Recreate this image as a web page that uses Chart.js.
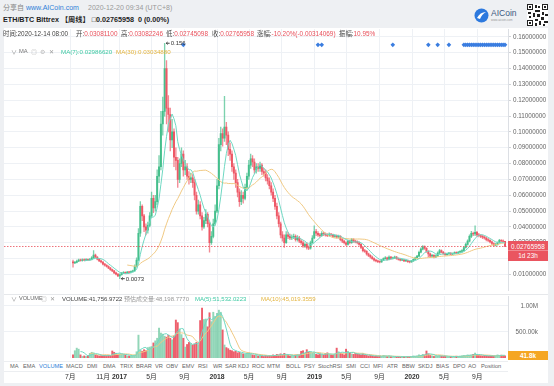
<!DOCTYPE html>
<html><head><meta charset="utf-8">
<script src="https://cdn.jsdelivr.net/npm/chart.js@4.4.1/dist/chart.umd.min.js"></script>
<style>
html,body{margin:0;padding:0;}
body{background:#eef0f3;width:554px;height:386px;overflow:hidden;position:relative;font-family:"Liberation Sans","Noto Sans CJK SC",sans-serif;}
#panel{position:absolute;left:4px;top:28px;width:544px;height:355px;background:#fff;}
canvas{position:absolute;left:0;top:0;}
.t{position:absolute;white-space:nowrap;line-height:1;}
.r{color:#e8505b;}
.lbl{color:#444;}
#tabs{position:absolute;left:4px;top:361px;width:504px;height:11px;border-top:1px solid #eceef1;border-bottom:1px solid #eceef1;background:#fff;box-sizing:border-box;font-size:5.7px;color:#666;}
#tabs span{position:absolute;top:2.2px;white-space:nowrap;line-height:1;}
#tabs span.on{color:#2f7fd8;}
#ptag{position:absolute;left:508px;width:40px;height:20px;background:#ea5560;color:#fff;font-size:6.4px;text-align:center;}
#vtag{position:absolute;left:508px;width:40px;height:9px;background:#f5a623;color:#fff;font-size:6.4px;font-weight:bold;text-align:center;line-height:9px;}
</style></head><body>
<div id="panel"></div>
<div class="t" style="left:3px;top:4px;font-size:7px;color:#888;">分享自 <span style="color:#2f7fd8">www.AICoin.com</span></div>
<div class="t" style="left:88px;top:4px;font-size:7px;color:#999;">2020-12-20 09:34 (UTC+8)</div>
<div class="t" style="left:3px;top:16px;font-size:7.2px;font-weight:bold;color:#222;">ETH/BTC Bittrex 【周线】 □0.02765958&nbsp; 0 (0.00%)</div>
<svg style="position:absolute;left:474px;top:8px" width="15" height="15" viewBox="0 0 15 15"><circle cx="7.5" cy="7.5" r="7" fill="#2d79de"/><path d="M3 10 Q6 4 12 4 Q8 6 6 11 Z" fill="#fff"/></svg>
<div class="t" style="left:491px;top:9px;font-size:8.5px;color:#3b587f;">AICoin</div>
<div class="t" style="left:491px;top:18.5px;font-size:3px;color:#999;">www.aicoin.com</div>
<svg style="position:absolute;left:527px;top:4px" width="21" height="22" viewBox="0 0 21 22">
<rect width="21" height="22" fill="#fff"/>
<g fill="#222">
<rect x="0" y="0" width="6" height="6"/><rect x="15" y="0" width="6" height="6"/><rect x="0" y="16" width="6" height="6"/>
<rect x="8" y="1" width="2" height="3"/><rect x="11" y="2" width="2" height="2"/><rect x="8" y="6" width="5" height="2"/>
<rect x="1" y="8" width="3" height="2"/><rect x="6" y="9" width="2" height="4"/><rect x="10" y="10" width="3" height="3"/>
<rect x="15" y="8" width="2" height="3"/><rect x="18" y="10" width="3" height="2"/><rect x="14" y="13" width="3" height="3"/>
<rect x="8" y="15" width="3" height="2"/><rect x="12" y="17" width="2" height="4"/><rect x="17" y="17" width="4" height="2"/>
<rect x="2" y="12" width="2" height="2"/><rect x="16" y="20" width="2" height="2"/><rect x="8" y="19" width="2" height="3"/>
</g>
<g fill="#fff"><rect x="1" y="1" width="4" height="4"/><rect x="16" y="1" width="4" height="4"/><rect x="1" y="17" width="4" height="4"/></g>
<g fill="#222"><rect x="2" y="2" width="2" height="2"/><rect x="17" y="2" width="2" height="2"/><rect x="2" y="18" width="2" height="2"/></g>
</svg>

<canvas id="pc" width="548" height="296"></canvas>
<canvas id="vc" width="548" height="386"></canvas>

<div style="position:absolute;left:4px;top:294px;width:544px;height:1px;background:#e6e8eb;"></div>

<div class="t" style="left:3px;top:31px;font-size:6.4px;"><span class="lbl">时间:2020-12-14 08:00</span></div>
<div class="t" style="left:76px;top:31px;font-size:6.4px;"><span class="lbl">开:</span><span class="r">0.03081100</span></div>
<div class="t" style="left:121px;top:31px;font-size:6.4px;"><span class="lbl">高:</span><span class="r">0.03082246</span></div>
<div class="t" style="left:166px;top:31px;font-size:6.4px;"><span class="lbl">低:</span><span class="r">0.02745098</span></div>
<div class="t" style="left:212px;top:31px;font-size:6.4px;"><span class="lbl">收:</span><span class="r">0.02765958</span></div>
<div class="t" style="left:257px;top:31px;font-size:6.4px;"><span class="lbl">涨幅:</span><span class="r">-10.20%(-0.00314069)</span></div>
<div class="t" style="left:339px;top:31px;font-size:6.4px;"><span class="lbl">振幅:</span><span class="r">10.95%</span></div>

<div class="t" style="left:11px;top:49px;font-size:6px;color:#999;">∨</div>
<div class="t" style="left:19px;top:49px;font-size:5.8px;color:#777;">MA</div>
<div class="t" style="left:31px;top:49px;font-size:6px;color:#bbb;">◎</div>
<div class="t" style="left:40px;top:49px;font-size:6px;color:#bbb;">⚙</div>
<div class="t" style="left:49px;top:49px;font-size:6px;color:#999;">✕</div>
<div class="t" style="left:61px;top:49px;font-size:6.2px;color:#3fc9a4;">MA(7):0.02986620</div>
<div class="t" style="left:116px;top:49px;font-size:6.2px;color:#e3b43f;">MA(30):0.03034880</div>

<div class="t" style="left:11px;top:296px;font-size:6px;color:#999;">∨</div>
<div class="t" style="left:19px;top:296px;font-size:5.6px;color:#666;">VOLUME</div>
<div class="t" style="left:41px;top:296px;font-size:6px;color:#bbb;">◎</div>
<div class="t" style="left:50px;top:296px;font-size:6px;color:#999;">✕</div>
<div class="t" style="left:62px;top:296px;font-size:6px;color:#444;">VOLUME:41,756.9722</div>
<div class="t" style="left:124px;top:296px;font-size:6px;color:#999;">预估成交量:48,198.7770</div>
<div class="t" style="left:195px;top:296px;font-size:6px;color:#3fc9a4;">MA(5):51,532.0223</div>
<div class="t" style="left:261px;top:296px;font-size:6px;color:#e3b43f;">MA(10):45,019.3559</div>

<div id="tabs">
<span style="left:6px">MA</span><span style="left:19px">EMA</span><span class="on" style="left:35px">VOLUME</span><span style="left:62px">MACD</span><span style="left:83px">DMI</span><span style="left:99px">DMA</span><span style="left:116px">TRIX</span><span style="left:132px">BRAR</span><span style="left:151px">VR</span><span style="left:162px">OBV</span><span style="left:178px">EMV</span><span style="left:194px">RSI</span><span style="left:209px">WR</span><span style="left:221px">SAR</span><span style="left:234px">KDJ</span><span style="left:248px">ROC</span><span style="left:263px">MTM</span><span style="left:282px">BOLL</span><span style="left:300px">PSY</span><span style="left:314px">StochRSI</span><span style="left:342px">SMI</span><span style="left:356px">CCI</span><span style="left:369px">MFI</span><span style="left:383px">ATR</span><span style="left:398px">BBW</span><span style="left:414px">SKDJ</span><span style="left:432px">BIAS</span><span style="left:449px">DPO</span><span style="left:464px">AO</span><span style="left:477px">Position</span>
</div>

<div id="ptag"><div style="height:10px;line-height:11px;border-bottom:1px solid #f08a92;box-sizing:border-box;">0.02765958</div><div style="height:10px;line-height:9px;">1d 23h</div></div>
<div id="vtag">41.8k</div>

<script>
// ---------------- DATA ----------------
const weekStart = '2016-07-11';
const firstOpen = 0.0180;
const close = [
0.0172,0.0176,0.0183,0.0190,0.0188,0.0192,0.0190,0.0193,0.0191,0.0195,
0.0205,0.0222,0.0210,0.0196,0.0185,0.0178,0.0165,0.0158,0.0150,0.0140,
0.0130,0.0122,0.0110,0.0102,0.0090,0.0098,0.0108,0.0112,0.0110,0.0115,
0.0113,0.0118,0.0122,0.0150,0.0190,0.0360,0.0530,0.0470,0.0400,0.0380,
0.0410,0.0470,0.0580,0.0520,0.0560,0.0720,0.0780,0.1050,0.1130,0.1400,
0.1150,0.1110,0.0950,0.1000,0.0840,0.0820,0.0700,0.0800,0.0860,0.0760,
0.0780,0.0720,0.0700,0.0710,0.0680,0.0600,0.0500,0.0540,0.0470,0.0400,
0.0440,0.0480,0.0420,0.0300,0.0340,0.0420,0.0500,0.0660,0.0920,0.0990,
0.0960,0.1030,0.0980,0.0890,0.0860,0.0780,0.0740,0.0680,0.0620,0.0560,
0.0600,0.0580,0.0650,0.0720,0.0790,0.0830,0.0810,0.0760,0.0780,0.0770,
0.0790,0.0750,0.0740,0.0710,0.0690,0.0660,0.0620,0.0580,0.0530,0.0470,
0.0420,0.0350,0.0330,0.0300,0.0350,0.0340,0.0330,0.0335,0.0340,0.0320,
0.0330,0.0310,0.0300,0.0280,0.0290,0.0270,0.0265,0.0300,0.0330,0.0370,
0.0360,0.0350,0.0345,0.0360,0.0355,0.0350,0.0345,0.0355,0.0350,0.0340,
0.0345,0.0335,0.0340,0.0320,0.0310,0.0300,0.0290,0.0310,0.0300,0.0320,
0.0310,0.0305,0.0300,0.0290,0.0270,0.0250,0.0245,0.0230,0.0220,0.0210,
0.0200,0.0190,0.0185,0.0180,0.0178,0.0190,0.0200,0.0205,0.0195,0.0210,
0.0200,0.0205,0.0210,0.0200,0.0195,0.0190,0.0192,0.0185,0.0188,0.0180,
0.0178,0.0185,0.0195,0.0205,0.0215,0.0240,0.0260,0.0275,0.0265,0.0245,
0.0230,0.0215,0.0220,0.0210,0.0218,0.0235,0.0250,0.0240,0.0232,0.0225,
0.0230,0.0235,0.0228,0.0232,0.0238,0.0235,0.0240,0.0245,0.0250,0.0270,
0.0290,0.0310,0.0340,0.0360,0.0355,0.0365,0.0350,0.0345,0.0340,0.0335,
0.0330,0.0320,0.0315,0.0305,0.0295,0.0285,0.0290,0.0300,0.0315,0.0312,
0.03081100,0.02765958];
const high = [
.0190,.0182,.0190,.0196,.0197,.0199,.0198,.0200,.0198,.0201,
.0212,.0250,.0228,.0213,.0199,.0190,.0181,.0170,.0162,.0154,
.0144,.0134,.0125,.0114,.0105,.0104,.0113,.0118,.0116,.0120,
.0119,.0123,.0128,.0160,.0205,.0390,.0560,.0540,.0480,.0420,
.0430,.0490,.0620,.0600,.0600,.0760,.0850,.1130,.1220,.1560,
.1450,.1230,.1150,.1080,.1020,.0900,.0840,.0830,.0900,.0880,
.0820,.0800,.0750,.0740,.0730,.0700,.0620,.0570,.0560,.0490,
.0460,.0510,.0490,.0430,.0370,.0450,.0540,.0700,.0960,.1030,
.1020,.1225,.1060,.1000,.0930,.0880,.0800,.0760,.0700,.0640,
.0630,.0620,.0670,.0740,.0820,.0860,.0850,.0830,.0800,.0800,
.0810,.0800,.0770,.0760,.0730,.0710,.0680,.0640,.0600,.0550,
.0490,.0430,.0370,.0350,.0370,.0365,.0355,.0350,.0355,.0350,
.0345,.0340,.0320,.0310,.0300,.0300,.0280,.0310,.0345,.0406,
.0385,.0370,.0360,.0370,.0368,.0362,.0358,.0362,.0360,.0355,
.0352,.0350,.0348,.0345,.0328,.0316,.0305,.0318,.0316,.0328,
.0326,.0316,.0312,.0305,.0295,.0275,.0258,.0250,.0235,.0225,
.0215,.0204,.0195,.0190,.0186,.0195,.0205,.0212,.0210,.0218,
.0214,.0210,.0216,.0214,.0204,.0200,.0197,.0195,.0192,.0190,
.0184,.0189,.0199,.0210,.0220,.0248,.0268,.0282,.0280,.0270,
.0250,.0235,.0226,.0225,.0224,.0242,.0258,.0255,.0245,.0236,
.0234,.0240,.0238,.0236,.0243,.0242,.0245,.0250,.0256,.0276,
.0298,.0318,.0350,.0372,.0368,.0406,.0372,.0360,.0352,.0348,
.0342,.0336,.0328,.0320,.0310,.0300,.0296,.0306,.0322,.0320,
.0318,.03082246];
const low = [
.0145,.0168,.0172,.0180,.0183,.0184,.0186,.0187,.0186,.0188,
.0192,.0200,.0205,.0192,.0180,.0172,.0160,.0152,.0145,.0136,
.0125,.0117,.0105,.0097,.0086,.0073,.0095,.0104,.0106,.0107,
.0109,.0110,.0115,.0120,.0145,.0185,.0340,.0440,.0370,.0350,
.0360,.0400,.0460,.0490,.0500,.0540,.0680,.0760,.0980,.1100,
.1050,.1000,.0880,.0900,.0780,.0760,.0650,.0680,.0780,.0720,
.0730,.0700,.0670,.0680,.0650,.0570,.0480,.0480,.0450,.0380,
.0390,.0420,.0400,.0240,.0290,.0330,.0410,.0490,.0640,.0880,
.0910,.0940,.0920,.0850,.0820,.0750,.0700,.0650,.0590,.0530,
.0540,.0550,.0570,.0630,.0700,.0770,.0780,.0740,.0740,.0750,
.0750,.0730,.0720,.0690,.0670,.0640,.0600,.0560,.0510,.0450,
.0400,.0330,.0310,.0270,.0295,.0325,.0320,.0320,.0325,.0310,
.0310,.0300,.0290,.0270,.0270,.0260,.0256,.0260,.0295,.0325,
.0345,.0340,.0335,.0340,.0345,.0342,.0338,.0340,.0342,.0332,
.0333,.0328,.0328,.0312,.0300,.0292,.0282,.0285,.0293,.0296,
.0302,.0298,.0292,.0283,.0262,.0242,.0238,.0222,.0212,.0203,
.0194,.0184,.0178,.0174,.0172,.0175,.0186,.0196,.0190,.0192,
.0195,.0196,.0200,.0195,.0190,.0185,.0186,.0180,.0181,.0176,
.0173,.0175,.0182,.0192,.0202,.0212,.0236,.0255,.0258,.0238,
.0210,.0205,.0208,.0204,.0206,.0214,.0230,.0235,.0226,.0220,
.0220,.0226,.0224,.0224,.0228,.0230,.0231,.0236,.0240,.0246,
.0265,.0285,.0305,.0332,.0345,.0345,.0340,.0336,.0332,.0326,
.0322,.0312,.0306,.0298,.0288,.0278,.0280,.0284,.0295,.0305,
.0302,.02745098];
const volumeK = [
60,140,190,170,60,30,40,30,50,90,
110,100,60,50,40,45,40,50,45,55,
50,135,110,90,60,80,75,70,60,40,
40,35,45,60,120,440,150,130,160,140,
200,210,220,290,330,380,575,480,460,420,
400,440,380,350,420,730,680,560,450,380,
210,260,300,280,250,270,300,260,720,960,
740,750,600,870,700,880,800,860,920,880,
540,250,200,180,150,140,120,130,100,110,
90,80,70,90,100,80,60,50,60,40,
50,40,30,50,40,50,40,60,50,70,
60,80,60,90,60,50,40,50,40,60,
70,60,130,140,90,160,110,120,90,100,
70,60,80,70,60,90,100,70,60,50,
80,190,120,90,80,60,170,130,90,80,
70,90,80,70,60,80,60,50,40,50,
40,30,40,30,40,30,50,40,30,40,
30,20,30,20,30,20,30,25,20,30,
25,30,40,35,40,60,50,70,60,135,
80,50,40,30,35,40,50,40,30,35,
30,25,30,25,30,35,30,35,40,50,
45,60,55,60,70,95,60,50,45,40,
50,45,35,40,35,40,45,60,50,55,
50,41.7569722];
const markerWeeks = [59,131,133,171,190,195,201,209,210,211,212,213,214,215,216,217,218,219,220,221,222,223,224,225,226,227,228,229,230,231];
const markerLevel = 0.155;
const tickDates  = ['2016-07-01','2016-11-01','2017-01-01','2017-05-01','2017-09-01','2018-01-01','2018-05-01','2018-09-01','2019-01-01','2019-05-01','2019-09-01','2020-01-01','2020-05-01','2020-09-01'];
const tickLabels = ['7月','11月','2017','5月','9月','2018','5月','9月','2019','5月','9月','2020','5月','9月'];
const priceTicks = [0.01,0.02,0.03,0.04,0.05,0.06,0.07,0.08,0.09,0.10,0.11,0.12,0.13,0.14,0.15,0.16];
const volumeTicksK = [500,1000];

// ---------------- BUILD ----------------
Chart.defaults.font.family = '"Liberation Sans","Noto Sans CJK SC",sans-serif';
Chart.defaults.animation = false;
const N = close.length;
const open = close.map((c,i)=> i===0 ? firstOpen : close[i-1]);
const isUp = close.map((c,i)=> c >= open[i]);
const UP='#45bf8c', DOWN='#ee5866';
const UPV='rgba(110,200,160,0.75)', DOWNV='rgba(236,86,100,0.95)';
function ma(arr,n){const out=[];for(let i=n-1;i<arr.length;i++){let s=0;for(let k=i-n+1;k<=i;k++)s+=arr[k];out.push({x:i,y:s/n});}return out;}
const DAY=864e5;
const tickPos = tickDates.map(d => (Date.parse(d)-Date.parse(weekStart))/(7*DAY));
const XMIN=-36.9, XMAX=232.6;

function xScale(show){
  return {type:'linear',min:XMIN,max:XMAX,offset:false,
    afterBuildTicks:s=>{s.ticks=tickPos.map(v=>({value:v}));},
    afterFit:s=>{ if(show) s.height=28; },
    grid:{color:'#eef1f5',drawTicks:false,offset:false},
    border:{display:false},
    ticks:{display:show,autoSkip:false,maxRotation:0,padding:15,color:'#333',
      font:c=>({size:6.8,weight:/^\d{4}$/.test(tickLabels[c.index]||'')?'bold':'normal'}),
      callback:(v,i)=>tickLabels[i]}
  };
}

const pricePlugin={id:'pe',afterDatasetsDraw(chart){
  const {ctx,chartArea:a,scales:{x,y}}=chart;
  const yp=Math.round(y.getPixelForValue(close[N-1]))+0.5;
  ctx.save();
  ctx.strokeStyle='rgba(232,80,91,0.8)';ctx.lineWidth=1;ctx.setLineDash([1.5,1.5]);
  ctx.beginPath();ctx.moveTo(a.left,yp);ctx.lineTo(a.right,yp);ctx.stroke();
  ctx.setLineDash([]);
  let hi=0,lo=0;
  for(let i=0;i<N;i++){if(high[i]>high[hi])hi=i;if(low[i]<low[lo])lo=i;}
  ctx.strokeStyle='#444';ctx.fillStyle='#333';ctx.font='6px "Liberation Sans"';ctx.textBaseline='middle';
  [[hi,high[hi]],[lo,low[lo]]].forEach(([i,v])=>{
    const px=x.getPixelForValue(i),py=y.getPixelForValue(v);
    ctx.beginPath();ctx.moveTo(px+1.5,py);ctx.lineTo(px+5,py);ctx.stroke();
    ctx.beginPath();ctx.moveTo(px+1.5,py);ctx.lineTo(px+3,py-1.2);ctx.moveTo(px+1.5,py);ctx.lineTo(px+3,py+1.2);ctx.stroke();
    ctx.fillText(String(v),px+6,py+0.5);
  });
  ctx.restore();
}};

const pc=new Chart(document.getElementById('pc'),{
  type:'bar',
  data:{datasets:[
    {type:'line',data:markerWeeks.map(i=>({x:i,y:markerLevel})),showLine:false,pointStyle:'rectRot',pointRadius:2.3,pointBackgroundColor:'#3a7de0',pointBorderWidth:0,order:0},
    {type:'line',data:ma(close,7),borderColor:'#6fd8c2',borderWidth:1,pointRadius:0,order:1},
    {type:'line',data:ma(close,30),borderColor:'#f0c983',borderWidth:1,pointRadius:0,order:1},
    {data:close.map((c,i)=>({x:i,y:[open[i],c]})),backgroundColor:isUp.map(u=>u?UP:DOWN),barThickness:1.3,grouped:false,minBarLength:0.6,order:2},
    {data:close.map((c,i)=>({x:i,y:[low[i],high[i]]})),backgroundColor:isUp.map(u=>u?'rgba(69,191,140,0.7)':'rgba(238,88,102,0.7)'),barThickness:0.7,grouped:false,order:3}
  ]},
  options:{responsive:false,devicePixelRatio:1,animation:false,
    layout:{padding:{left:4,top:29,bottom:3,right:0}},
    plugins:{legend:{display:false},tooltip:{enabled:false}},
    scales:{
      x:xScale(false),
      y:{position:'right',min:0,max:0.165,
        afterBuildTicks:s=>{s.ticks=priceTicks.map(v=>({value:v}));},
        afterFit:s=>{s.width=40;},
        grid:{color:'#eef1f5',tickLength:3,tickColor:'#d0d3d8'},
        border:{color:'#dcdfe4'},
        ticks:{color:'#666',font:{size:6.3},padding:2,callback:v=>v.toFixed(8)}}
    }},
  plugins:[pricePlugin]
});

const vc=new Chart(document.getElementById('vc'),{
  type:'bar',
  data:{datasets:[
    {type:'line',data:ma(volumeK,5),borderColor:'#6fd8c2',borderWidth:1,pointRadius:0,order:1},
    {type:'line',data:ma(volumeK,10),borderColor:'#f0c983',borderWidth:1,pointRadius:0,order:1},
    {data:volumeK.map((v,i)=>({x:i,y:v})),backgroundColor:isUp.map(u=>u?UPV:DOWNV),barThickness:1.3,grouped:false,order:2}
  ]},
  options:{responsive:false,devicePixelRatio:1,animation:false,
    layout:{padding:{left:4,top:296,bottom:0,right:10}},
    plugins:{legend:{display:false},tooltip:{enabled:false}},
    scales:{
      x:xScale(true),
      y:{position:'right',min:0,max:1192.3,
        afterBuildTicks:s=>{s.ticks=volumeTicksK.map(v=>({value:v}));},
        afterFit:s=>{s.width=30;},
        grid:{color:'#eef1f5',drawTicks:false},
        border:{color:'#dcdfe4'},
        ticks:{color:'#666',font:{size:6.3},crossAlign:'far',padding:0,
          callback:v=> v>=1000 ? (v/1000).toFixed(2)+'M' : v.toFixed(2)+'k'}}
    }}
});

// tags positioned from the scales
const py=pc.scales.y.getPixelForValue(close[N-1]);
document.getElementById('ptag').style.top=(py-5)+'px';
const vy=vc.scales.y.getPixelForValue(volumeK[N-1]);
document.getElementById('vtag').style.top=(vy-4.5)+'px';
</script>
</body></html>
